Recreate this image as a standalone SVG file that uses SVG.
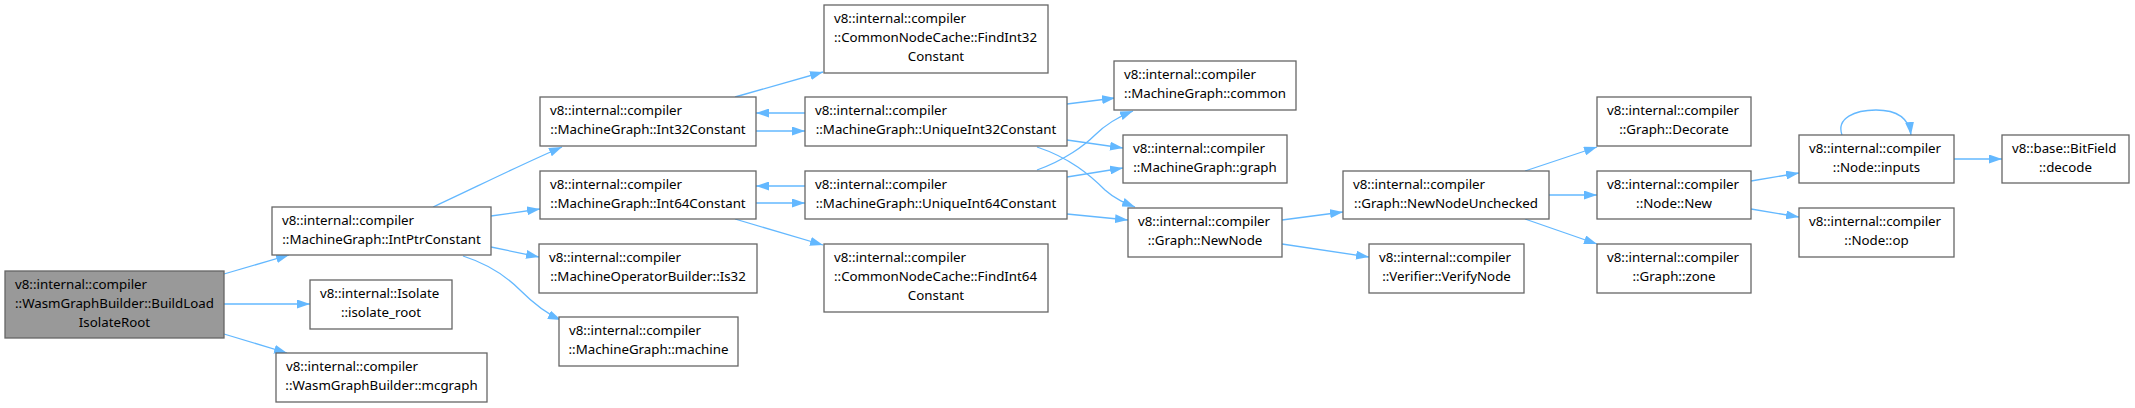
<svg xmlns="http://www.w3.org/2000/svg" width="2135" height="408" viewBox="0 0 2135 408">
<style>
.n rect{fill:#ffffff;stroke:#666666;stroke-width:1.3}
.n.root rect{fill:#999999}
.n text{font-family:"Noto Sans","Liberation Sans",sans-serif;font-size:13.3px;fill:#000000}
.m{text-anchor:middle}
.e path{fill:none;stroke:#63b8ff;stroke-width:1.3;marker-end:url(#ah)}
</style>
<defs>
<marker id="ah" viewBox="0 0 13 9" refX="13" refY="4.5" markerWidth="13" markerHeight="9" markerUnits="userSpaceOnUse" orient="auto">
<path d="M0,0 L13,4.5 L0,9 z" fill="#63b8ff" stroke="none"/>
</marker>
</defs>
<rect width="2135" height="408" fill="#ffffff"/>
<g id="connectors" class="e">
<path d="M224,274 L289,255"/>
<path d="M224,304 L310,304"/>
<path d="M224,334 L287,353"/>
<path d="M433,207 C470,190 520,165 562,147"/>
<path d="M491,216 L540,209"/>
<path d="M491,247 L539,257"/>
<path d="M463,256 C485,263 505,275 520,290 C533,303 545,313 561,320"/>
<path d="M735,97 L823,72"/>
<path d="M756,131 L805,131"/>
<path d="M805,113 L756,113"/>
<path d="M1067,104 L1115,98"/>
<path d="M1067,140 L1123,148"/>
<path d="M1037,147 C1070,158 1090,175 1105,190 C1115,199 1125,203 1135,207"/>
<path d="M756,203 L805,203"/>
<path d="M805,186 L756,186"/>
<path d="M735,219 L823,245"/>
<path d="M1037,170 C1065,160 1085,145 1095,135 C1105,125 1118,117 1133,111"/>
<path d="M1067,177 L1123,168"/>
<path d="M1067,214 L1128,220"/>
<path d="M1282,220 L1343,212"/>
<path d="M1282,244 L1369,257"/>
<path d="M1525,171 L1597,147"/>
<path d="M1549,195 L1597,195"/>
<path d="M1525,219 L1597,244"/>
<path d="M1751,181 L1799,173"/>
<path d="M1751,209 L1799,217"/>
<path d="M1842,135 C1836,118 1855,110 1876,110 C1896,110 1909,118 1911,135"/>
<path d="M1954,159 L2002,159"/>
</g>
<g id="n_buildload" class="n root"><rect x="5" y="271" width="219" height="67"/><text x="15" y="289">v8::internal::compiler</text><text x="15" y="308">::WasmGraphBuilder::BuildLoad</text><text class="m" x="114.5" y="327">IsolateRoot</text></g>
<g id="n_intptr" class="n"><rect x="272" y="207" width="219" height="48"/><text x="282" y="225">v8::internal::compiler</text><text class="m" x="381.5" y="244">::MachineGraph::IntPtrConstant</text></g>
<g id="n_isolateroot" class="n"><rect x="310" y="280" width="142" height="49"/><text x="320" y="298">v8::internal::Isolate</text><text class="m" x="381" y="317">::isolate_root</text></g>
<g id="n_mcgraph" class="n"><rect x="276" y="353" width="211" height="49"/><text x="286" y="371">v8::internal::compiler</text><text class="m" x="381.5" y="390">::WasmGraphBuilder::mcgraph</text></g>
<g id="n_int32" class="n"><rect x="540" y="97" width="216" height="49"/><text x="550" y="115">v8::internal::compiler</text><text class="m" x="648" y="134">::MachineGraph::Int32Constant</text></g>
<g id="n_uint32" class="n"><rect x="805" y="97" width="262" height="49"/><text x="815" y="115">v8::internal::compiler</text><text class="m" x="936" y="134">::MachineGraph::UniqueInt32Constant</text></g>
<g id="n_find32" class="n"><rect x="824" y="5" width="224" height="68"/><text x="834" y="23">v8::internal::compiler</text><text x="834" y="42">::CommonNodeCache::FindInt32</text><text class="m" x="936" y="61">Constant</text></g>
<g id="n_int64" class="n"><rect x="540" y="171" width="216" height="48"/><text x="550" y="189">v8::internal::compiler</text><text class="m" x="648" y="208">::MachineGraph::Int64Constant</text></g>
<g id="n_uint64" class="n"><rect x="805" y="171" width="262" height="48"/><text x="815" y="189">v8::internal::compiler</text><text class="m" x="936" y="208">::MachineGraph::UniqueInt64Constant</text></g>
<g id="n_is32" class="n"><rect x="539" y="244" width="218" height="49"/><text x="549" y="262">v8::internal::compiler</text><text class="m" x="648" y="281">::MachineOperatorBuilder::Is32</text></g>
<g id="n_find64" class="n"><rect x="824" y="244" width="224" height="68"/><text x="834" y="262">v8::internal::compiler</text><text x="834" y="281">::CommonNodeCache::FindInt64</text><text class="m" x="936" y="300">Constant</text></g>
<g id="n_machine" class="n"><rect x="559" y="317" width="179" height="49"/><text x="569" y="335">v8::internal::compiler</text><text class="m" x="648.5" y="354">::MachineGraph::machine</text></g>
<g id="n_common" class="n"><rect x="1114" y="61" width="182" height="49"/><text x="1124" y="79">v8::internal::compiler</text><text class="m" x="1205" y="98">::MachineGraph::common</text></g>
<g id="n_graph" class="n"><rect x="1123" y="135" width="164" height="48"/><text x="1133" y="153">v8::internal::compiler</text><text class="m" x="1205" y="172">::MachineGraph::graph</text></g>
<g id="n_newnode" class="n"><rect x="1128" y="208" width="154" height="49"/><text x="1138" y="226">v8::internal::compiler</text><text class="m" x="1205" y="245">::Graph::NewNode</text></g>
<g id="n_newnodeunchecked" class="n"><rect x="1343" y="171" width="206" height="48"/><text x="1353" y="189">v8::internal::compiler</text><text class="m" x="1446" y="208">::Graph::NewNodeUnchecked</text></g>
<g id="n_verifynode" class="n"><rect x="1369" y="244" width="155" height="49"/><text x="1379" y="262">v8::internal::compiler</text><text class="m" x="1446.5" y="281">::Verifier::VerifyNode</text></g>
<g id="n_decorate" class="n"><rect x="1597" y="97" width="154" height="49"/><text x="1607" y="115">v8::internal::compiler</text><text class="m" x="1674" y="134">::Graph::Decorate</text></g>
<g id="n_nodenew" class="n"><rect x="1597" y="171" width="154" height="48"/><text x="1607" y="189">v8::internal::compiler</text><text class="m" x="1674" y="208">::Node::New</text></g>
<g id="n_zone" class="n"><rect x="1597" y="244" width="154" height="49"/><text x="1607" y="262">v8::internal::compiler</text><text class="m" x="1674" y="281">::Graph::zone</text></g>
<g id="n_inputs" class="n"><rect x="1799" y="135" width="155" height="48"/><text x="1809" y="153">v8::internal::compiler</text><text class="m" x="1876.5" y="172">::Node::inputs</text></g>
<g id="n_op" class="n"><rect x="1799" y="208" width="155" height="49"/><text x="1809" y="226">v8::internal::compiler</text><text class="m" x="1876.5" y="245">::Node::op</text></g>
<g id="n_decode" class="n"><rect x="2002" y="135" width="127" height="48"/><text x="2012" y="153">v8::base::BitField</text><text class="m" x="2065.5" y="172">::decode</text></g>
</svg>
